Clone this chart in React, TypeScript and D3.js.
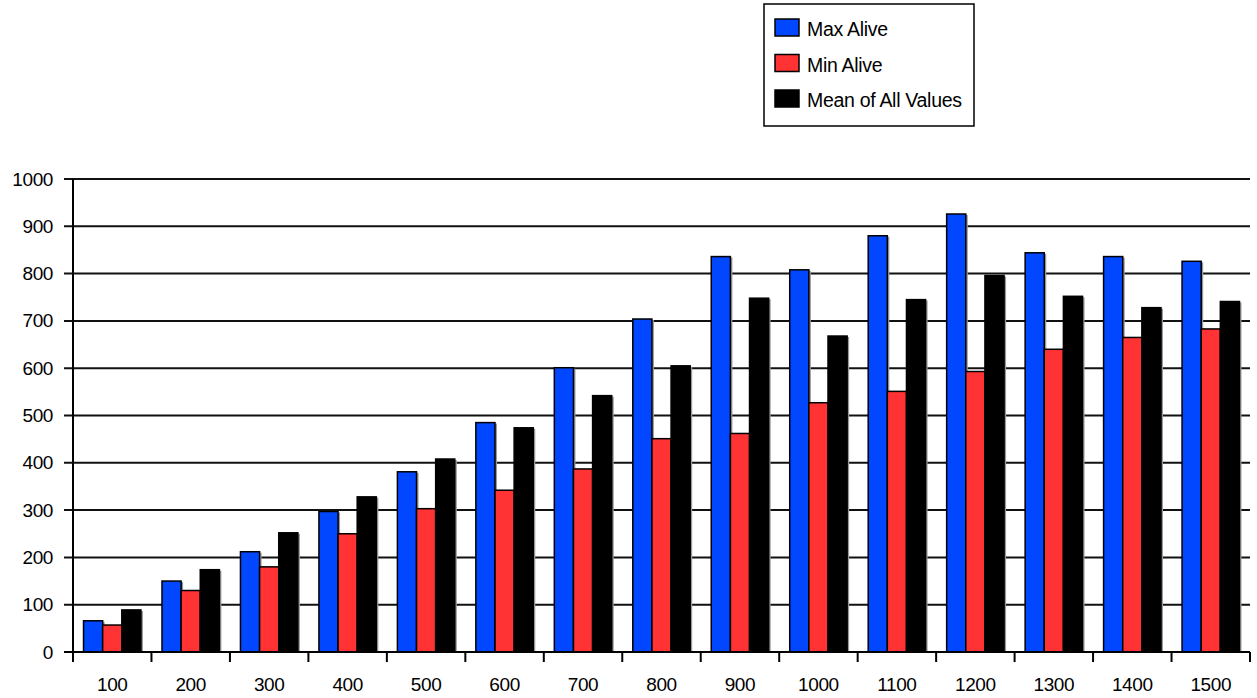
import { useRef, useEffect } from 'react';
import * as d3 from 'd3';

const CATEGORIES = ['100', '200', '300', '400', '500', '600', '700', '800', '900', '1000', '1100', '1200', '1300', '1400', '1500'];
const MAX_ALIVE = [66, 150, 212, 297, 381, 485, 601, 704, 836, 808, 880, 926, 844, 836, 826];
const MIN_ALIVE = [57, 130, 180, 250, 303, 342, 387, 451, 462, 527, 551, 593, 640, 665, 683];
const MEAN_ALL = [89, 174, 252, 328, 408, 474, 542, 605, 748, 668, 745, 796, 752, 728, 741];
const Y_TICKS = [0, 100, 200, 300, 400, 500, 600, 700, 800, 900, 1000];

const SERIES = [
  { name: 'Max Alive', values: MAX_ALIVE, color: '#0047ff' },
  { name: 'Min Alive', values: MIN_ALIVE, color: '#ff3333' },
  { name: 'Mean of All Values', values: MEAN_ALL, color: '#000000' },
];

export default function App() {
  const ref = useRef<SVGSVGElement>(null);

  useEffect(() => {
    const svg = ref.current;
    if (!svg) return;
    const W = 1257, H = 698;
    const left = 73, right = 1250, top = 179, bottom = 652;

    d3.select(svg).selectAll('*').remove();
    const g = d3.select(svg).attr('width', W).attr('height', H).append('g');
    const font = 'Liberation Sans, Arial, sans-serif';

    const x = d3.scaleBand().domain(CATEGORIES).range([left, right]).paddingInner(0).paddingOuter(0);
    const inner = d3.scaleBand().domain(SERIES.map((s) => s.name)).range([0, x.bandwidth()]).paddingOuter(0.55).paddingInner(0);
    const y = d3.scaleLinear().domain([0, 1000]).range([bottom, top]);

    // gridlines + y labels
    Y_TICKS.forEach((v) => {
      g.append('line')
        .attr('x1', left - 9).attr('x2', right).attr('y1', y(v)).attr('y2', y(v))
        .attr('stroke', '#111').attr('stroke-width', 2);
      g.append('text')
        .attr('x', 53).attr('y', y(v) + 6.5)
        .attr('text-anchor', 'end').attr('font-family', font).attr('font-size', 19)
        .attr('letter-spacing', -0.4).attr('fill', '#000')
        .text(v);
    });

    // bars
    SERIES.forEach((s) => {
      CATEGORIES.forEach((c, i) => {
        const bx = (x(c) ?? 0) + (inner(s.name) ?? 0);
        const bw = inner.bandwidth();
        g.append('rect')
          .attr('x', bx + 2).attr('y', y(s.values[i]) + 1)
          .attr('width', bw).attr('height', bottom - y(s.values[i]) - 1)
          .attr('fill', '#999');
        g.append('rect')
          .attr('x', bx).attr('y', y(s.values[i]))
          .attr('width', bw).attr('height', bottom - y(s.values[i]))
          .attr('fill', s.color).attr('stroke', '#000').attr('stroke-width', 1.5);
      });
    });

    // axes
    g.append('line').attr('x1', left).attr('x2', left).attr('y1', top).attr('y2', bottom + 10)
      .attr('stroke', '#000').attr('stroke-width', 2);
    g.append('line').attr('x1', left - 9).attr('x2', right).attr('y1', bottom).attr('y2', bottom)
      .attr('stroke', '#000').attr('stroke-width', 2);

    CATEGORIES.forEach((c) => {
      const x0 = x(c) ?? 0;
      g.append('line').attr('x1', x0).attr('x2', x0).attr('y1', bottom).attr('y2', bottom + 10)
        .attr('stroke', '#000').attr('stroke-width', 2);
      g.append('text')
        .attr('x', x0 + x.bandwidth() / 2).attr('y', 691)
        .attr('text-anchor', 'middle').attr('font-family', font).attr('font-size', 19)
        .attr('letter-spacing', -0.4).attr('fill', '#000')
        .text(c);
    });
    g.append('line').attr('x1', right).attr('x2', right).attr('y1', bottom).attr('y2', bottom + 10)
      .attr('stroke', '#000').attr('stroke-width', 2);

    // legend
    g.append('rect').attr('x', 764).attr('y', 4).attr('width', 210).attr('height', 122)
      .attr('fill', '#fff').attr('stroke', '#000').attr('stroke-width', 1.5);
    SERIES.forEach((s, i) => {
      const base = 36 + i * 35.5;
      g.append('rect').attr('x', 775).attr('y', base - 17).attr('width', 24).attr('height', 17)
        .attr('fill', s.color).attr('stroke', '#000').attr('stroke-width', 1.5);
      g.append('text').attr('x', 807).attr('y', base)
        .attr('font-family', font).attr('font-size', 19.5).attr('letter-spacing', -0.3).attr('fill', '#000')
        .text(s.name);
    });
  }, []);

  return (
    <div style={{ position: 'absolute', left: 0, top: 0, background: '#fff' }}>
      <svg ref={ref} style={{ display: 'block' }} />
    </div>
  );
}
